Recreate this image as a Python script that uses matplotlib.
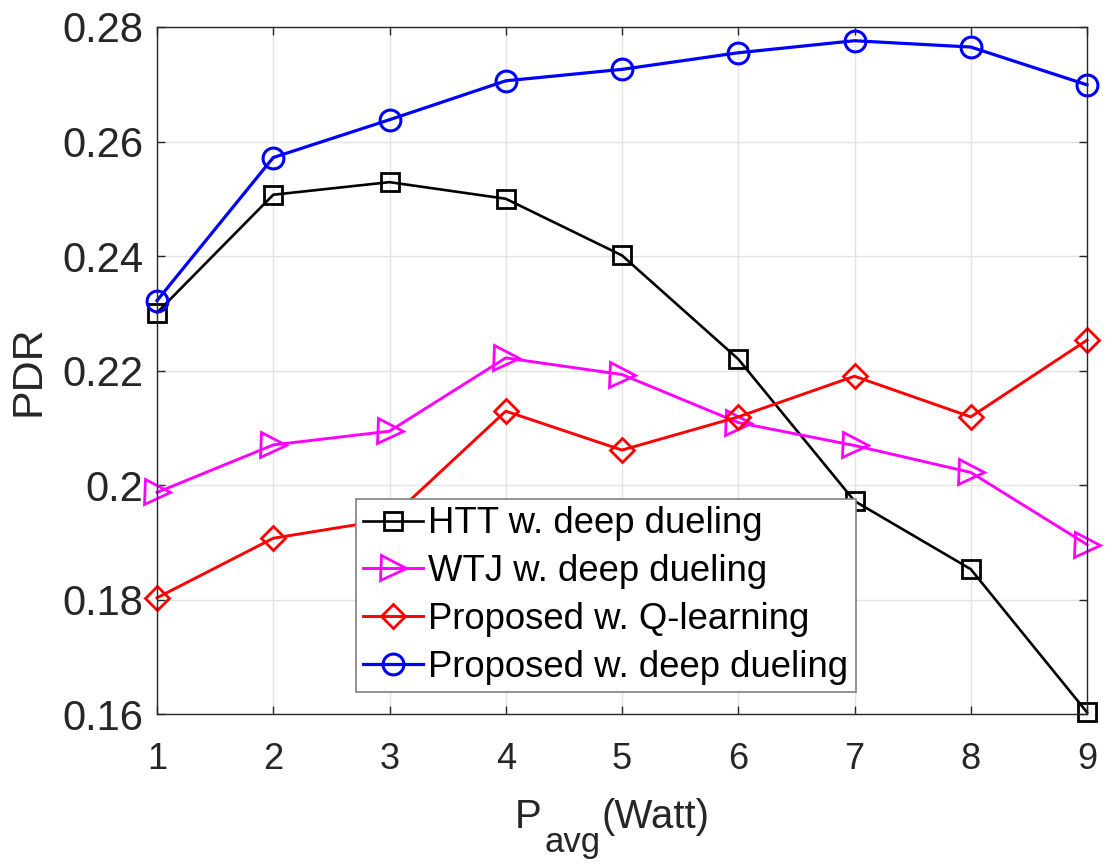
import numpy as np
import matplotlib.pyplot as plt

plt.rcParams['font.family'] = ['Liberation Sans', 'DejaVu Sans']

# data
p_avg = [1, 2, 3, 4, 5, 6, 7, 8, 9]
htt_dueling = [0.2301, 0.2507, 0.2529, 0.2500, 0.2401, 0.2220, 0.1972, 0.1853, 0.1603]
wtj_dueling = [0.1987, 0.2070, 0.2094, 0.2222, 0.2193, 0.2109, 0.2069, 0.2022, 0.1896]
prop_qlearning = [0.1803, 0.1907, 0.1940, 0.2129, 0.2061, 0.2119, 0.2190, 0.2119, 0.2253]
prop_dueling = [0.2322, 0.2572, 0.2638, 0.2706, 0.2726, 0.2755, 0.2776, 0.2765, 0.2699]

labels = ["HTT w. deep dueling", "WTJ w. deep dueling",
          "Proposed w. Q-learning", "Proposed w. deep dueling"]
y_ticks = [0.16, 0.18, 0.2, 0.22, 0.24, 0.26, 0.28]
y_ticklabels = ["0.16", "0.18", "0.2", "0.22", "0.24", "0.26", "0.28"]

W, H = 1115, 864
fig = plt.figure(figsize=(W / 100, H / 100), dpi=100)
ax = fig.add_axes([157 / W, 1 - 714 / H, 930 / W, 687 / H])

ink = "#262626"
common = dict(mfc="none", clip_on=False)
ax.plot(p_avg, htt_dueling, color="k", lw=1.9, marker="s", ms=12.5,
        mew=2.0, label=labels[0], **common)
ax.plot(p_avg, wtj_dueling, color="#ff00ff", lw=2.1, marker=">", ms=18,
        mew=2.0, label=labels[1], **common)
ax.plot(p_avg, prop_qlearning, color="#ff0000", lw=2.1, marker="D", ms=12,
        mew=2.0, label=labels[2], **common)
ax.plot(p_avg, prop_dueling, color="#0000ff", lw=2.3, marker="o", ms=15,
        mew=2.2, label=labels[3], **common)

ax.set_xlim(1, 9)
ax.set_ylim(0.16, 0.28)
ax.set_xticks(p_avg)
ax.set_yticks(y_ticks)
ax.set_yticklabels(y_ticklabels)
ax.grid(True, color="#e3e3e3", lw=1.0)
ax.set_axisbelow(True)
ax.tick_params(direction="in", length=6, width=1, colors=ink,
               top=True, right=True)
ax.tick_params(axis="x", labelsize=26, pad=20)
ax.tick_params(axis="y", labelsize=30, pad=10)
for s in ax.spines.values():
    s.set_color(ink)
    s.set_linewidth(1.0)

ax.set_ylabel("PDR", fontsize=31, color=ink, labelpad=10)

# x label drawn in pieces so the subscript sits like the MATLAB one
fig.text(515 / W, 1 - 828 / H, "P", fontsize=29, color=ink,
         ha="left", va="baseline")
fig.text(544 / W, 1 - 852 / H, "avg", fontsize=25, color=ink,
         ha="left", va="baseline")
fig.text(601 / W, 1 - 828 / H, "(Watt)", fontsize=29, color=ink,
         ha="left", va="baseline")

leg = ax.legend(loc="lower left", bbox_to_anchor=(0.214, 0.032),
                borderaxespad=0, fontsize=26.3, handlelength=1.63,
                handletextpad=0.15, labelspacing=0.35, borderpad=0.2,
                fancybox=False, framealpha=1, edgecolor="#808080")
leg.get_frame().set_linewidth(1.2)

fig.savefig("out.png", dpi=100)
